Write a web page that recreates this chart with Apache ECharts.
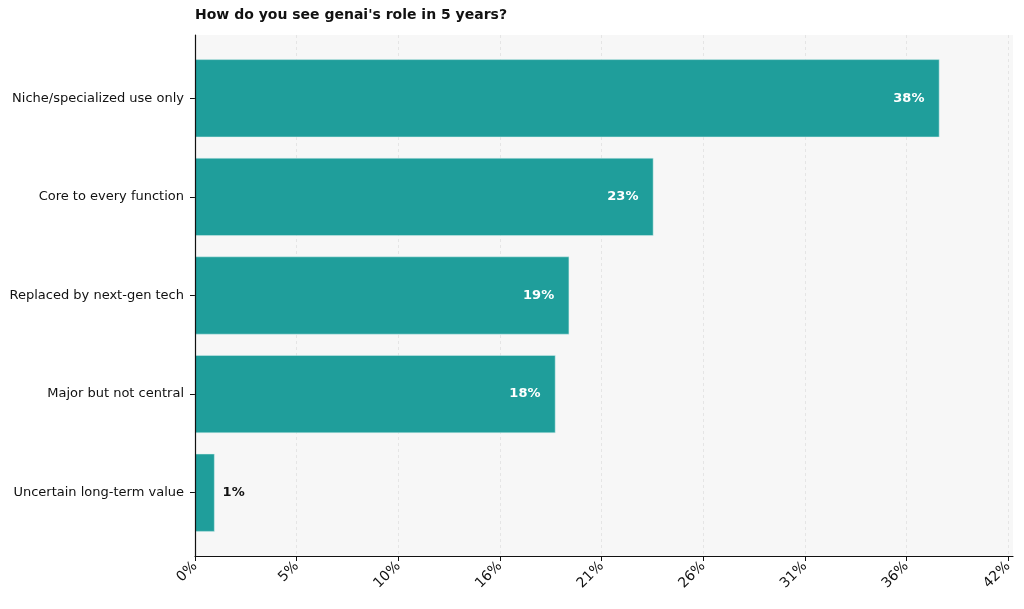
<!DOCTYPE html>
<html lang="en">
<head>
    <meta charset="UTF-8">
    <title>genai role in 5 years</title>
    <script src="https://cdn.jsdelivr.net/npm/echarts@6/dist/echarts.min.js"></script>
    <style>
        html, body { margin: 0; padding: 0; background: #fff; }
        #main { width: 1024px; height: 609px; }
    </style>
</head>
<body>
<div id="main"></div>
<script>
    // data
    var categories = ['Niche/specialized use only', 'Core to every function', 'Replaced by next-gen tech',
        'Major but not central', 'Uncertain long-term value'];
    var values = [38.0, 23.4, 19.1, 18.4, 1.0];
    var xMax = 41.5;            // last tick (shown as 42%)
    var xStep = xMax / 8;       // 8 tick intervals

    var font = 'DejaVu Sans';
    var barColor = '#1f9e9b';

    var chart = echarts.init(document.getElementById('main'));

    var barData = values.map(function (v, i) {
        if (v < 5) {
            return {
                value: v,
                label: { position: 'right', distance: 8, color: '#111' }
            };
        }
        return v;
    });

    var option = {
        animation: false,
        textStyle: { fontFamily: font },
        title: {
            text: "How do you see genai's role in 5 years?",
            left: 190,
            top: 3,
            textStyle: { fontFamily: font, fontSize: 14, fontWeight: 'bold', color: '#111' }
        },
        grid: [
            // background / frame
            { left: 195, right: 11, top: 35, bottom: 53, show: true, backgroundColor: '#f7f7f7', borderWidth: 0 },
            // tick axis
            { left: 195, right: 16, top: 35, bottom: 53 },
            // bars
            { left: 195, right: 16, top: 49, bottom: 67 }
        ],
        xAxis: [
            {
                gridIndex: 0, type: 'value', min: 0, max: 1, z: 10,
                axisLine: { show: true, lineStyle: { color: '#111', width: 1.2 } },
                axisTick: { show: false }, axisLabel: { show: false }, splitLine: { show: false }
            },
            {
                gridIndex: 1, type: 'value', min: 0, max: xMax, interval: xStep,
                axisLine: { show: false },
                axisTick: { show: true, length: 5, lineStyle: { color: '#111' } },
                axisLabel: {
                    rotate: 45, margin: 8, fontSize: 14, color: '#111', fontFamily: font,
                    formatter: function (v) { return Math.round(v) + '%'; }
                },
                splitLine: { show: true, lineStyle: { color: '#e0e0e0', type: [3, 3], width: 0.8 } }
            },
            {
                gridIndex: 2, type: 'value', min: 0, max: xMax, show: false
            }
        ],
        yAxis: [
            {
                gridIndex: 0, type: 'value', min: 0, max: 1, z: 10,
                axisLine: { show: true, lineStyle: { color: '#111', width: 1.2 } },
                axisTick: { show: false }, axisLabel: { show: false }, splitLine: { show: false }
            },
            {
                gridIndex: 1, type: 'value', min: 0, max: 1, show: false
            },
            {
                gridIndex: 2, type: 'category', inverse: true, data: categories,
                axisLine: { show: false },
                axisTick: { show: true, alignWithLabel: true, length: 5, lineStyle: { color: '#111' } },
                axisLabel: { margin: 11, fontSize: 13, color: '#111', fontFamily: font },
                splitLine: { show: false }
            }
        ],
        series: [{
            type: 'bar',
            xAxisIndex: 2,
            yAxisIndex: 2,
            data: barData,
            barCategoryGap: '21%',
            itemStyle: { color: barColor, borderColor: '#d8f0ee', borderWidth: 0.5 },
            label: {
                show: true,
                position: 'insideRight',
                distance: 15,
                fontFamily: font,
                fontSize: 13,
                fontWeight: 'bold',
                color: '#fff',
                formatter: function (p) { return Math.round(p.value) + '%'; }
            }
        }]
    };

    chart.setOption(option);
</script>
</body>
</html>
